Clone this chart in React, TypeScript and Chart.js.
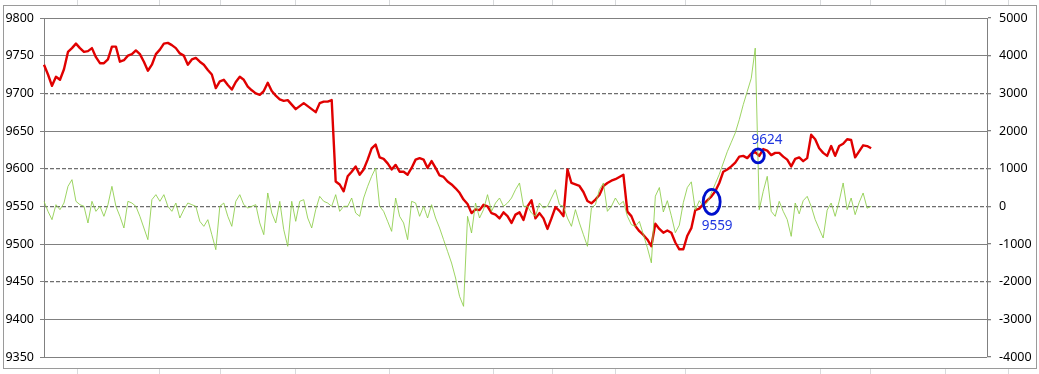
import React, { useEffect, useRef } from 'react';
import { Chart, registerables } from 'chart.js';

Chart.register(...registerables);

// ---- data ----
const priceValues: number[] = [
  9738, 9725, 9710, 9722, 9718, 9732, 9755, 9760, 9766, 9760,
  9755, 9756, 9760, 9748, 9740, 9740, 9745, 9762, 9762, 9742,
  9744, 9750, 9752, 9757, 9752, 9742, 9730, 9738, 9752, 9758,
  9766, 9767, 9764, 9760, 9753, 9750, 9738, 9745, 9747, 9742,
  9738, 9731, 9725, 9707, 9716, 9718, 9711, 9705, 9715, 9722,
  9718, 9709, 9704, 9700, 9698, 9703, 9714, 9703, 9697, 9692,
  9690, 9691, 9685, 9679, 9683, 9687, 9683, 9679, 9675, 9687,
  9689, 9689, 9691, 9583, 9579, 9570, 9590, 9596, 9603, 9592,
  9599, 9612, 9627, 9632, 9615, 9613, 9607, 9599, 9605, 9596,
  9596, 9592, 9601, 9612, 9614, 9612, 9601, 9610, 9601, 9591,
  9589, 9583, 9579, 9574, 9568, 9559, 9553, 9541, 9546, 9545,
  9552, 9550, 9541, 9539, 9534, 9542, 9537, 9528, 9539, 9542,
  9532, 9550, 9558, 9534, 9541, 9534, 9520, 9534, 9549, 9544,
  9537, 9599, 9581, 9579, 9577, 9569, 9557, 9554, 9559, 9565,
  9577, 9581, 9584, 9586, 9589, 9592, 9543, 9537, 9524, 9517,
  9512, 9506, 9497, 9527, 9520, 9515, 9518, 9515, 9502, 9493,
  9493, 9511, 9521, 9545, 9547, 9553, 9558, 9563, 9570, 9581,
  9596, 9599, 9603, 9608, 9616, 9617, 9614, 9620, 9622, 9617,
  9626, 9624, 9618, 9621, 9621, 9616, 9612, 9603, 9613, 9615,
  9610, 9614, 9645, 9639, 9627, 9621, 9617, 9630, 9617, 9630,
  9633, 9639, 9638, 9615, 9623, 9631, 9630, 9627,
];

const flowValues: number[] = [
  133, -133, -354, 44, -88, 88, 531, 708, 133, 44,
  0, -442, 133, -133, 0, -265, 44, 531, 0, -265,
  -575, 133, 88, 0, -265, -575, -885, 177, 310, 133,
  310, 0, -133, 88, -310, -88, 88, 44, 0, -398,
  -531, -354, -752, -1150, 0, 88, -265, -531, 133, 310,
  44, -44, 0, 44, -442, -752, 354, -177, -442, 133,
  -620, -1062, 133, -398, 133, 177, -310, -575, -88, 265,
  133, 88, 0, 310, -133, 0, 0, 221, -177, -265,
  221, 531, 797, 1018, 0, -133, -398, -664, 221, -265,
  -442, -885, 133, 88, -265, 0, -310, 44, -310, -575,
  -885, -1195, -1505, -1903, -2390, -2655, -265, -708, 88, -310,
  -88, 310, -133, 88, 221, 0, 88, 221, 442, 620,
  0, 0, -177, -265, 88, -44, 0, 221, 442, 44,
  0, -310, -531, -88, -442, -752, -1062, -44, 44, 442,
  620, -133, 0, 221, 44, 133, -265, -487, -531, -400,
  -750, -1100, -1500, 270, 500, -150, 150, -250, -700, -500,
  100, 500, 650, -100, 150, 0, 100, 350, 600, 850,
  1150, 1450, 1700, 1950, 2300, 2700, 3050, 3400, 4200, -88,
  400, 797, -133, -265, 133, -133, -350, -797, 88, -200,
  150, 265, 0, -350, -600, -840, -100, 88, -265, 133,
  620, -88, 221, -221, 100, 354, -50, 0,
];

const categoryCount = 237;
const categories: string[] = Array.from({ length: categoryCount }, (_, i) => String(i + 1));

const leftMin = 9350;
const leftMax = 9800;
const leftStep = 50;
const rightMin = -4000;
const rightMax = 5000;
const rightStep = 1000;
const leftDashedTicks = [9700, 9600, 9550, 9450];
const rightDashedTicks = [3000, 1000, 0, -2000];

const markerIndex = [167.1, 178.7];
const markerValue = [9556, 9617];
const markerText = ['9559', '9624'];

// ---- styles ----
const GRID = '#808080';
const DASH = '#6e6e6e';
const markerStyle = [
  { rx: 8.5, ry: 12.5, tx: -10, ty: 28.5 },
  { rx: 6.3, ry: 7, tx: -6.5, ty: -12.3 },
];
const sheetColumns = [77, 159, 220, 295, 389, 493, 552, 615, 685, 820, 870, 945, 1008];

const markerPlugin = {
  id: 'markers',
  afterDatasetsDraw(chart: any) {
    const { ctx } = chart;
    const xs = chart.scales.x;
    const ys = chart.scales.y;
    ctx.save();
    for (let k = 0; k < markerIndex.length; k++) {
      const cx = xs.getPixelForValue(markerIndex[k]);
      const cy = ys.getPixelForValue(markerValue[k]);
      const st = markerStyle[k];
      ctx.beginPath();
      ctx.ellipse(cx, cy, st.rx, st.ry, 0, 0, Math.PI * 2);
      ctx.lineWidth = 2.8;
      ctx.strokeStyle = '#0010cc';
      ctx.stroke();
      ctx.font = "13.5px 'Noto Sans', sans-serif";
      ctx.fillStyle = '#1f36e0';
      ctx.textBaseline = 'alphabetic';
      ctx.textAlign = 'left';
      ctx.fillText(markerText[k], cx + st.tx, cy + st.ty);
    }
    ctx.restore();
  },
};

export default function App() {
  const canvasRef = useRef<HTMLCanvasElement | null>(null);

  useEffect(() => {
    document.body.style.margin = '0';
    const canvas = canvasRef.current;
    if (!canvas) return;
    const chart = new Chart(canvas, {
      type: 'line',
      data: {
        labels: categories,
        datasets: [
          {
            label: 'flow',
            data: flowValues,
            yAxisID: 'y2',
            borderColor: 'rgba(140,205,72,0.85)',
            borderWidth: 1,
            pointRadius: 0,
            tension: 0,
            order: 0,
          },
          {
            label: 'price',
            data: priceValues,
            yAxisID: 'y',
            borderColor: '#e00000',
            borderWidth: 2.4,
            borderJoinStyle: 'round',
            pointRadius: 0,
            tension: 0,
            order: 1,
          },
        ],
      },
      options: {
        animation: false,
        responsive: false,
        devicePixelRatio: 1,
        events: [],
        layout: { padding: { top: 18, bottom: 17, left: 0, right: 0 } },
        plugins: { legend: { display: false }, tooltip: { enabled: false } },
        scales: {
          x: { display: false, offset: false },
          y: {
            position: 'left',
            min: leftMin,
            max: leftMax,
            afterFit: (s: any) => { s.width = 44; },
            ticks: {
              stepSize: leftStep,
              padding: 6,
              color: '#000',
              font: { family: "'Noto Sans', sans-serif", size: 12.5 },
              callback: (v: any) => String(v),
            },
            grid: {
              color: (c: any) => (leftDashedTicks.includes(c.tick?.value) ? 'rgba(0,0,0,0)' : GRID),
              tickColor: GRID,
              tickLength: 4,
              lineWidth: 1,
            },
            border: { display: true, color: GRID, width: 1 },
          },
          y2: {
            position: 'right',
            min: rightMin,
            max: rightMax,
            afterFit: (s: any) => { s.width = 52; },
            ticks: {
              stepSize: rightStep,
              padding: 8,
              color: '#000',
              font: { family: "'Noto Sans', sans-serif", size: 12.5 },
              callback: (v: any) => String(v),
            },
            grid: {
              color: (c: any) => (rightDashedTicks.includes(c.tick?.value) ? DASH : 'rgba(0,0,0,0)'),
              tickColor: GRID,
              tickLength: 4,
              lineWidth: 1.3,
            },
            border: { display: true, color: GRID, width: 1, dash: [4, 2] },
          },
        },
      },
      plugins: [markerPlugin],
    } as any);
    return () => chart.destroy();
  }, []);

  return (
    <div style={{ position: 'fixed', left: 0, top: 0, width: 1039, height: 374, background: '#fff', overflow: 'hidden' }}>
      {sheetColumns.map((x) => (
        <div key={'t' + x} style={{ position: 'absolute', left: x, top: 0, width: 1, height: 374, background: '#d8dadc' }} />
      ))}
      <div
        style={{
          position: 'absolute', left: 3, top: 5, width: 1032, height: 362,
          border: '1px solid #9a9a9a', background: '#fff',
        }}
      />
      <canvas
        ref={canvasRef}
        width={1039}
        height={374}
        style={{ position: 'absolute', left: 0, top: 0, width: 1039, height: 374 }}
      />
    </div>
  );
}
